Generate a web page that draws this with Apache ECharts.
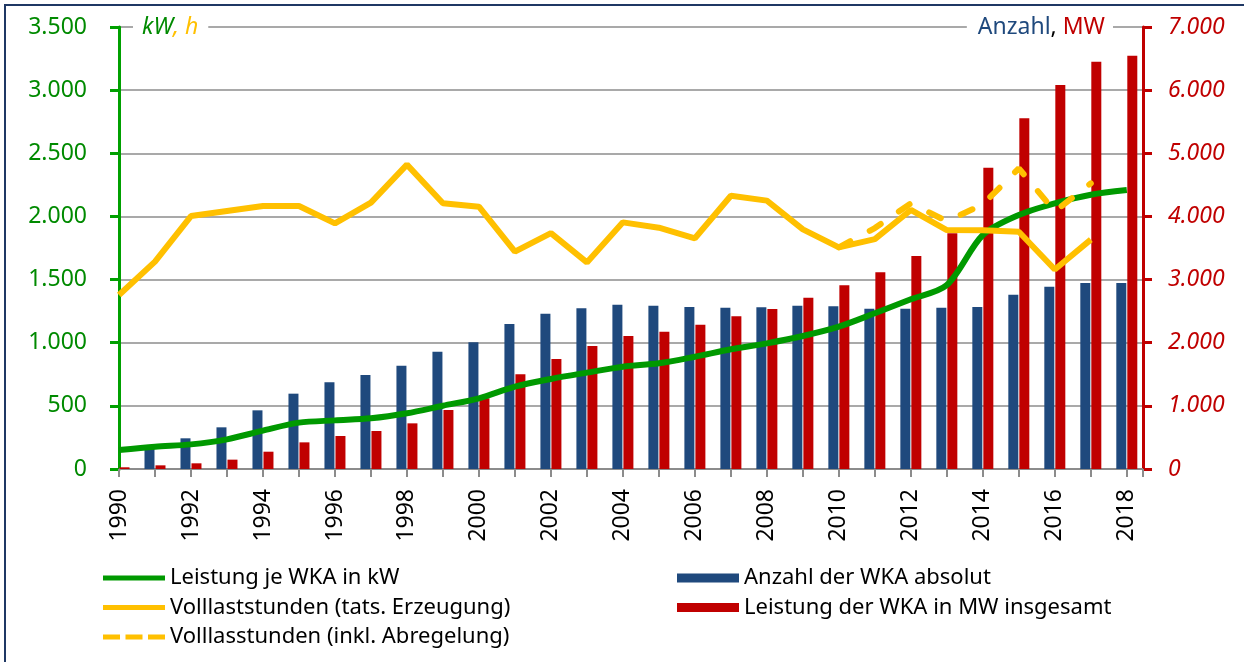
<!DOCTYPE html>
<html>
<head>
<meta charset="utf-8">
<script src="https://cdn.jsdelivr.net/npm/echarts@6/dist/echarts.min.js"></script>
<style>
html,body{margin:0;padding:0;background:#fff;}
#chart{width:1244px;height:662px;}
</style>
</head>
<body>
<div id="chart"></div>
<script>
// ---- data ----
const years = [1990,1991,1992,1993,1994,1995,1996,1997,1998,1999,2000,2001,2002,2003,2004,2005,2006,2007,2008,2009,2010,2011,2012,2013,2014,2015,2016,2017,2018];
// Leistung je WKA in kW (left axis)
const leistungJeWKA = [150,177,195,235,304,367,385,401,441,501,560,652,713,763,810,837,889,948,995,1053,1127,1233,1344,1457,1853,2011,2104,2172,2209];
// Volllaststunden (tats. Erzeugung), h, 1990-2017 (left axis)
const volllastTats = [1378,1642,2003,2043,2083,2083,1945,2109,2410,2104,2077,1721,1868,1636,1953,1911,1827,2164,2125,1898,1755,1820,2051,1892,1890,1879,1580,1816];
// Volllasstunden (inkl. Abregelung), h, 2010-2017
const inklYears = [2010,2011,2012,2013,2014,2015,2016,2017];
const volllastInkl = [1755,1908,2104,1962,2095,2380,2040,2262];
// Anzahl der WKA absolut (right axis); the 1990 bar is not visible in the reference (hidden at the axis)
const anzahl = [null,360,486,660,929,1193,1372,1489,1636,1858,2006,2296,2460,2545,2602,2587,2566,2555,2560,2587,2576,2539,2539,2555,2566,2761,2888,2946,2946];
// Leistung der WKA in MW insgesamt (right axis)
const leistungMW = [27,58,90,148,274,422,523,602,723,934,1120,1499,1742,1948,2106,2175,2286,2418,2534,2713,2909,3115,3373,3733,4772,5554,6082,6451,6546];
const leftTicks = [0,500,1000,1500,2000,2500,3000,3500];
const rightTicks = [0,1000,2000,3000,4000,5000,6000,7000];

const pairs = (xs, ys) => ys.map((v, i) => [xs[i], v]);
const de = v => String(v).replace(/\B(?=(\d{3})+(?!\d))/g, '.');
const FONT = 'Noto Sans';
const legendText = { fontSize: 22, color: '#000', fontFamily: FONT };

const chart = echarts.init(document.getElementById('chart'));
chart.setOption({
  animation: false,
  backgroundColor: '#fff',
  textStyle: { fontFamily: FONT },
  grid: { left: 119, right: 101, top: 27, bottom: 193, containLabel: false },
  xAxis: {
    type: 'value', min: years[0], max: 2018.45, interval: 1,
    axisLine: { show: true, onZero: false, lineStyle: { color: '#8c8c8c', width: 2 } },
    axisTick: { show: true, length: 8, lineStyle: { color: '#8c8c8c', width: 2 } },
    splitLine: { show: false },
    axisLabel: {
      rotate: 90, margin: 20, fontSize: 23, color: '#000', fontFamily: FONT,
      formatter: v => (Number.isInteger(v) && v % 2 === 0) ? String(v) : ''
    }
  },
  yAxis: [
    {
      type: 'value', min: leftTicks[0], max: leftTicks[leftTicks.length - 1], interval: 500,
      position: 'left',
      axisLine: { show: true, lineStyle: { color: '#00A000', width: 3 } },
      axisTick: { show: true, length: 9, lineStyle: { color: '#00A000', width: 3 } },
      splitLine: { show: true, lineStyle: { color: '#8c8c8c', width: 1.5 } },
      axisLabel: { margin: 32, fontSize: 23, color: '#008A00', fontFamily: FONT, formatter: de }
    },
    {
      type: 'value', min: rightTicks[0], max: rightTicks[rightTicks.length - 1], interval: 1000,
      position: 'right',
      axisLine: { show: true, lineStyle: { color: '#C00000', width: 3 } },
      axisTick: { show: true, length: 9, lineStyle: { color: '#C00000', width: 3 } },
      splitLine: { show: false },
      axisLabel: { margin: 25, fontSize: 23, color: '#C00000', fontStyle: 'italic', fontFamily: FONT, formatter: de }
    }
  ],
  legend: [
    {
      left: 103, top: 567, orient: 'vertical', padding: 0,
      itemWidth: 62, itemHeight: 5, itemGap: 7.5,
      textStyle: legendText,
      data: [
        { name: 'Leistung je WKA in kW', icon: 'rect' },
        { name: 'Volllaststunden (tats. Erzeugung)', icon: 'rect' },
        { name: 'Volllasstunden (inkl. Abregelung)', icon: 'path://M0,0h17v5h-17z M22.5,0h17v5h-17z M45,0h17v5h-17z' }
      ]
    },
    {
      left: 677, top: 567, orient: 'vertical', padding: 0,
      itemWidth: 62, itemHeight: 9, itemGap: 7.5,
      textStyle: legendText,
      data: [{ name: 'Anzahl der WKA absolut', icon: 'rect' }, { name: 'Leistung der WKA in MW insgesamt', icon: 'rect' }]
    }
  ],
  series: [
    {
      name: 'Anzahl der WKA absolut', type: 'bar', yAxisIndex: 1,
      barWidth: 10, barGap: '10%', itemStyle: { color: '#1F497D' },
      data: pairs(years, anzahl), z: 2
    },
    {
      name: 'Leistung der WKA in MW insgesamt', type: 'bar', yAxisIndex: 1,
      barWidth: 10, barGap: '10%', itemStyle: { color: '#C00000' },
      data: pairs(years, leistungMW), z: 2
    },
    {
      name: 'Leistung je WKA in kW', type: 'line', yAxisIndex: 0,
      symbol: 'none', smooth: 0.3, color: '#009900',
      itemStyle: { color: '#009900' },
      lineStyle: { color: '#009900', width: 6 },
      data: pairs(years, leistungJeWKA), z: 3
    },
    {
      name: 'Volllasstunden (inkl. Abregelung)', type: 'line', yAxisIndex: 0,
      symbol: 'none', color: '#FFC000',
      itemStyle: { color: '#FFC000' },
      lineStyle: { color: '#FFC000', width: 6, type: [13, 22], cap: 'round' },
      data: pairs(inklYears, volllastInkl), z: 4
    },
    {
      name: 'Volllaststunden (tats. Erzeugung)', type: 'line', yAxisIndex: 0,
      symbol: 'none', color: '#FFC000',
      itemStyle: { color: '#FFC000' },
      lineStyle: { color: '#FFC000', width: 6 },
      data: pairs(years.slice(0, volllastTats.length), volllastTats), z: 5
    }
  ],
  graphic: [
    {
      type: 'rect', silent: true, z: 100,
      shape: { x: 5, y: 5, width: 1260, height: 680 },
      style: { fill: 'none', stroke: '#1F3864', lineWidth: 2 }
    },
    {
      type: 'text', x: 133, y: 27, z: 50,
      style: {
        text: '{g|kW}{o|, h}', verticalAlign: 'middle', align: 'left',
        backgroundColor: '#fff', padding: [2, 10, 2, 9],
        font: 'italic 23px "Noto Sans"',
        rich: {
          g: { fill: '#008A00', fontStyle: 'italic', fontSize: 23, fontFamily: FONT },
          o: { fill: '#FFC000', fontStyle: 'italic', fontSize: 23, fontFamily: FONT }
        }
      }
    },
    {
      type: 'text', x: 1113, y: 27, z: 50,
      style: {
        text: '{a|Anzahl}{k|, }{m|MW}', verticalAlign: 'middle', align: 'right',
        backgroundColor: '#fff', padding: [2, 8, 2, 11],
        font: '23px "Noto Sans"',
        rich: {
          a: { fill: '#1F497D', fontSize: 23, fontFamily: FONT },
          k: { fill: '#000', fontSize: 23, fontFamily: FONT },
          m: { fill: '#C00000', fontSize: 23, fontFamily: FONT }
        }
      }
    }
  ]
});
</script>
</body>
</html>
